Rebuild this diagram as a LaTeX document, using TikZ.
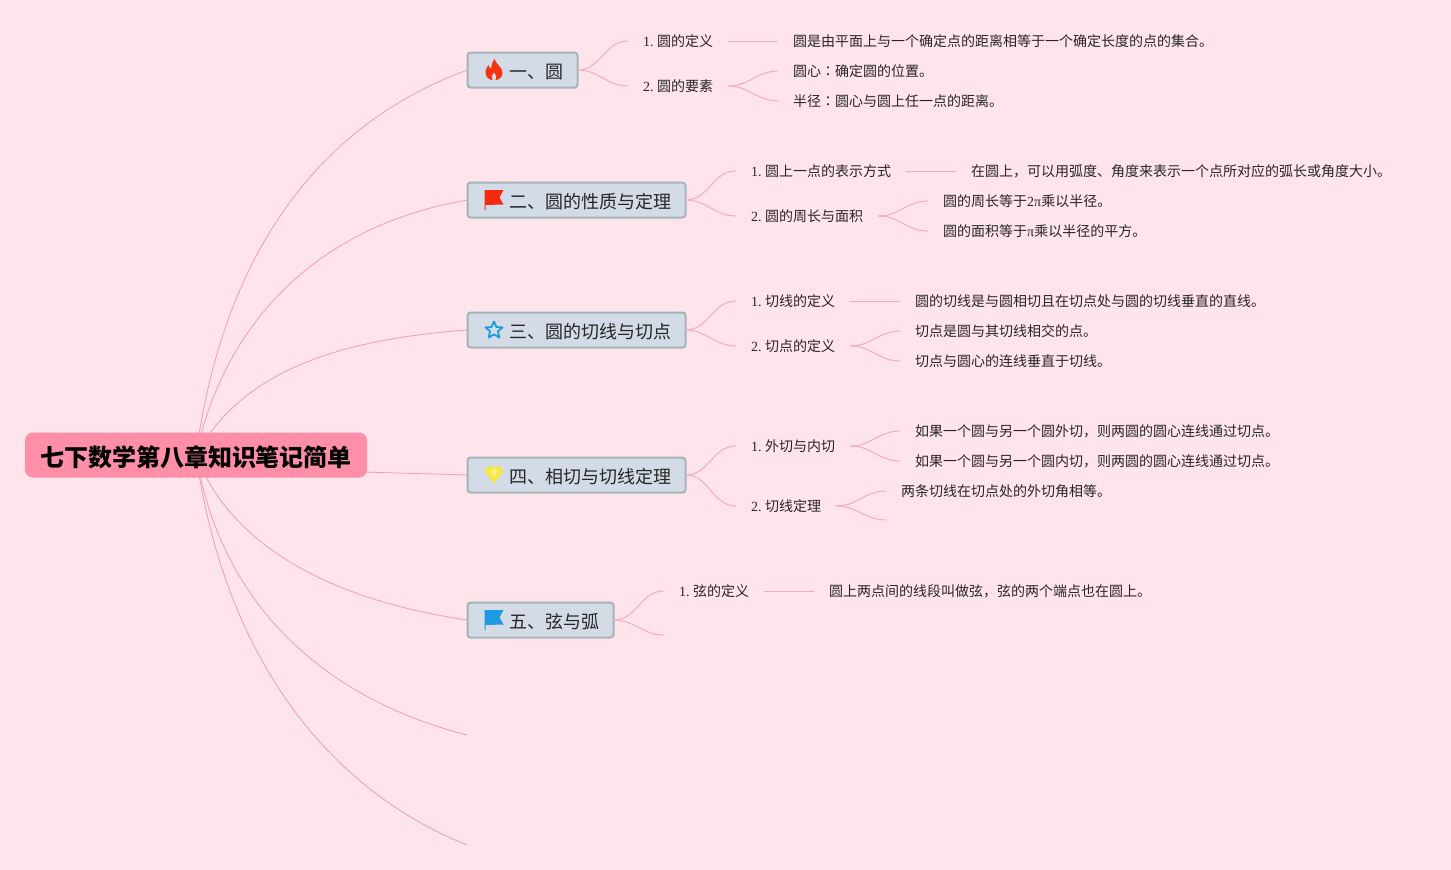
\documentclass[tikz,border=0pt]{standalone}
\usepackage{fontspec}
\setmainfont{Noto Sans CJK SC}
\newfontfamily\lat{Liberation Serif}
\newfontfamily\tcf{Noto Sans CJK TC}
\definecolor{bg}{HTML}{FFE4EC}
\definecolor{rootfill}{HTML}{FF8FA8}
\definecolor{boxfill}{HTML}{D3DCE6}
\definecolor{boxline}{HTML}{A2B5B8}
\definecolor{conn}{HTML}{F9A9C0}
\definecolor{rootconn}{HTML}{F59BB6}
\definecolor{flamecol}{HTML}{F4340E}
\definecolor{flagred}{HTML}{F42A0E}
\definecolor{skyblue}{HTML}{1E9BE0}
\definecolor{gem}{HTML}{F5E640}
\definecolor{gemlight}{HTML}{FAF080}
\newcommand{\nm}[1]{{\lat\frenchspacing #1}}
\tikzset{
  leaf/.style={anchor=west,inner xsep=15pt,inner ysep=0pt,font=\fontsize{14}{14}\selectfont,text=black!85,text height=12.3pt,text depth=1.7pt},
  topic/.style={anchor=west,draw=boxline,fill=boxfill,line width=2pt,outer sep=0pt,rounded corners=3pt,inner xsep=14pt,inner ysep=0pt,minimum height=35pt,font=\fontsize{18}{18}\selectfont,text=black!85,text height=18.5pt,text depth=2.5pt},
  rootbox/.style={fill=rootfill,rounded corners=8pt,inner ysep=0pt,inner xsep=15pt,minimum height=45pt,font=\fontsize{24}{24}\selectfont\bfseries,text=black,text height=23.2pt,text depth=0pt},
  conline/.style={draw=conn,line width=1pt},
  rootline/.style={draw=rootconn,line width=.8pt},
  scurve/.style={conline,out=0,in=180,looseness=1.05}
}
\begin{document}
\begin{tikzpicture}[x=1pt,y=-1pt]
\useasboundingbox (0,0) rectangle (1451,870);
\fill[bg] (0,0) rectangle (1451,870);
\coordinate (rc) at (196,455);
\coordinate (free1) at (467,735);
\coordinate (free2) at (467,845);
\coordinate (free3) at (886,520);
\coordinate (free4) at (664,635);

\node[topic] (t1) at (467.5,70) {\hspace*{28pt}一、圆};
\node[topic] (t2) at (467.5,200) {\hspace*{28pt}二、圆的性质与定理};
\node[topic] (t3) at (467.5,330) {\hspace*{28pt}三、圆的切线与切点};
\node[topic] (t4) at (467.5,475) {\hspace*{28pt}四、相切与切线定理};
\node[topic] (t5) at (467.5,620) {\hspace*{28pt}五、弦与弧};

\node[leaf] (a1) at (628,41) {\nm{1. }圆的定义};
\node[leaf] (a2) at (628,86) {\nm{2. }圆的要素};
\node[leaf] (a11) at (778,41) {圆是由平面上与一个确定点的距离相等于一个确定长度的点的集合。};
\node[leaf] (a21) at (778,71) {圆心{\tcf ：}确定圆的位置。};
\node[leaf] (a22) at (778,101) {半径{\tcf ：}圆心与圆上任一点的距离。};

\node[leaf] (b1) at (736,171) {\nm{1. }圆上一点的表示方式};
\node[leaf] (b2) at (736,216) {\nm{2. }圆的周长与面积};
\node[leaf] (b11) at (956,171) {在圆上，可以用弧度、角度来表示一个点所对应的弧长或角度大小。};
\node[leaf] (b21) at (928,201) {圆的周长等于\nm{2π}乘以半径。};
\node[leaf] (b22) at (928,231) {圆的面积等于\nm{π}乘以半径的平方。};

\node[leaf] (c1) at (736,301) {\nm{1. }切线的定义};
\node[leaf] (c2) at (736,346) {\nm{2. }切点的定义};
\node[leaf] (c11) at (900,301) {圆的切线是与圆相切且在切点处与圆的切线垂直的直线。};
\node[leaf] (c21) at (900,331) {切点是圆与其切线相交的点。};
\node[leaf] (c22) at (900,361) {切点与圆心的连线垂直于切线。};

\node[leaf] (d1) at (736,446) {\nm{1. }外切与内切};
\node[leaf] (d2) at (736,506) {\nm{2. }切线定理};
\node[leaf] (d11) at (900,431) {如果一个圆与另一个圆外切，则两圆的圆心连线通过切点。};
\node[leaf] (d12) at (900,461) {如果一个圆与另一个圆内切，则两圆的圆心连线通过切点。};
\node[leaf] (d21) at (886,491) {两条切线在切点处的外切角相等。};

\node[leaf] (e1) at (664,591) {\nm{1. }弦的定义};
\node[leaf] (e11) at (814,591) {圆上两点间的线段叫做弦，弦的两个端点也在圆上。};

% level 2 connectors
\draw[scurve] (t1.east) to (a1.west);
\draw[scurve] (t1.east) to (a2.west);
\draw[scurve] (t2.east) to (b1.west);
\draw[scurve] (t2.east) to (b2.west);
\draw[scurve] (t3.east) to (c1.west);
\draw[scurve] (t3.east) to (c2.west);
\draw[scurve] (t4.east) to (d1.west);
\draw[scurve] (t4.east) to (d2.west);
\draw[scurve] (t5.east) to (e1.west);
\draw[scurve] (t5.east) to (free4);
% level 3 connectors
\draw[conline] (a1.east) -- (a11.west);
\draw[scurve] (a2.east) to (a21.west);
\draw[scurve] (a2.east) to (a22.west);
\draw[conline] (b1.east) -- (b11.west);
\draw[scurve] (b2.east) to (b21.west);
\draw[scurve] (b2.east) to (b22.west);
\draw[conline] (c1.east) -- (c11.west);
\draw[scurve] (c2.east) to (c21.west);
\draw[scurve] (c2.east) to (c22.west);
\draw[scurve] (d1.east) to (d11.west);
\draw[scurve] (d1.east) to (d12.west);
\draw[scurve] (d2.east) to (d21.west);
\draw[scurve] (d2.east) to (free3);
\draw[conline] (e1.east) -- (e11.west);
% root connectors
\draw[rootline] (rc) .. controls (225,240) and (330,120) .. (t1.west);
\draw[rootline] (rc) .. controls (225,320) and (320,225) .. (t2.west);
\draw[rootline] (rc) .. controls (240,375) and (330,340) .. (t3.west);
\draw[rootline] (rc) .. controls (260,472) and (380,472) .. (t4.west);
\draw[rootline] (rc) .. controls (230,545) and (330,600) .. (t5.west);
\draw[rootline] (rc) .. controls (222,610) and (330,700) .. (free1);
\draw[rootline] (rc) .. controls (225,660) and (330,790) .. (free2);

\node[rootbox] (root) at (196,455) {七下数学第八章知识笔记简单};

% icons
\begin{scope}[shift={(494,70)}]
\fill[flamecol] (0.5,-11) .. controls (1.5,-6) and (9,-3) .. (8.5,3.5) .. controls (8,8) and (4,10) .. (1.5,10) .. controls (3,7) and (2,4) .. (0,2) .. controls (-2,4) and (-3,7) .. (-1.5,10) .. controls (-5,10) and (-8.5,7) .. (-8.5,2.5) .. controls (-8.5,-1) and (-6.5,-3.5) .. (-5.5,-5) .. controls (-5,-3) and (-4,-1.5) .. (-3,-1.5) .. controls (-2,-5) and (-2,-8) .. (0.5,-11) -- cycle;
\end{scope}
\begin{scope}[shift={(494,200)}]
\fill[flagred] (-9.5,-10) -- (9.5,-10) -- (5.5,-2.5) -- (9.5,4.5) -- (-8.5,5) -- (-8.5,10) -- (-9.5,10) -- cycle;
\end{scope}
\begin{scope}[shift={(494,330)}]
\draw[draw=skyblue,line width=1.8pt,line join=round] (0,-8.5) -- (2.4,-3) -- (8.6,-2.6) -- (3.9,1.3) -- (5.4,7.6) -- (0,4.3) -- (-5.4,7.6) -- (-3.9,1.3) -- (-8.6,-2.6) -- (-2.4,-3) -- cycle;
\end{scope}
\begin{scope}[shift={(494,475)}]
\fill[gem] (-5,-8.5) -- (5,-8.5) .. controls (8,-8) and (9.5,-5) .. (9,-3.5) -- (0,8.5) -- (-9,-3.5) .. controls (-9.5,-5) and (-8,-8) .. (-5,-8.5) -- cycle;
\fill[gemlight] (-4,-3.5) -- (0,-7) -- (4,-3.5) -- (0,2) -- cycle;
\end{scope}
\begin{scope}[shift={(494,620)}]
\fill[skyblue] (-9.5,-10) -- (9.5,-10) -- (5.5,-2.5) -- (9.5,4.5) -- (-8.5,5) -- (-8.5,10) -- (-9.5,10) -- cycle;
\end{scope}
\end{tikzpicture}
\end{document}
